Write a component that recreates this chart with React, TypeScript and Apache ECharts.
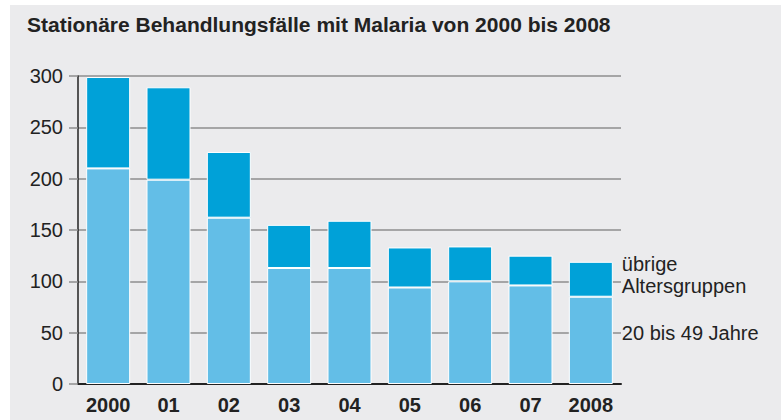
import React, { useEffect, useRef } from "react";
import * as echarts from "echarts";

const title = "Stationäre Behandlungsfälle mit Malaria von 2000 bis 2008";
const categories = ["2000", "01", "02", "03", "04", "05", "06", "07", "2008"];
const age20to49 = [210, 199, 162, 113, 113, 94, 100, 96, 85];
const otherAges = [89, 90, 64, 42, 46, 39, 34, 29, 34];
const seriesNames = ["20 bis 49 Jahre", "übrige\nAltersgruppen"];
const yTicks = [0, 50, 100, 150, 200, 250, 300];

const FONT = "'Liberation Sans', Arial, Helvetica, sans-serif";

export default function App() {
  const ref = useRef<HTMLDivElement>(null);
  useEffect(() => {
    if (!ref.current) return;
    const chart = echarts.init(ref.current, null, { renderer: "svg" });
    const last = categories.length - 1;
    const mk = (arr: number[], name: string, offsetY: number) =>
      arr.map((v, i) =>
        i === last
          ? {
              value: v,
              label: {
                show: true,
                position: "right",
                distance: 9,
                formatter: name,
                color: "#222",
                fontFamily: FONT,
                fontSize: 20,
                lineHeight: 22,
                align: "left",
                offset: [0, offsetY],
              },
            }
          : v
      );
    chart.setOption({
      animation: false,
      backgroundColor: "#ffffff",
      textStyle: { fontFamily: FONT },
      graphic: [
        {
          type: "rect",
          z: -10,
          silent: true,
          shape: { x: 10, y: 5, width: 771, height: 415 },
          style: { fill: "#ebebed" },
        },
      ],
      title: {
        text: title,
        left: 27,
        top: 14,
        padding: 0,
        textStyle: { fontFamily: FONT, fontSize: 21, fontWeight: "bold", color: "#222" },
      },
      grid: { left: 78, right: 160, top: 76, bottom: 36, containLabel: false },
      xAxis: {
        type: "category",
        data: categories,
        axisLine: { lineStyle: { color: "#222", width: 2 } },
        axisTick: { show: false },
        axisLabel: {
          fontFamily: FONT,
          fontSize: 20,
          fontWeight: "bold",
          color: "#222",
          margin: 11,
        },
      },
      yAxis: {
        type: "value",
        min: yTicks[0],
        max: yTicks[yTicks.length - 1],
        interval: 50,
        axisLine: { show: true, lineStyle: { color: "#222", width: 1.5 } },
        axisTick: { show: true, length: 9, lineStyle: { color: "#8e8e8e", width: 1.5 } },
        splitLine: { lineStyle: { color: "#8e8e8e", width: 1.5 } },
        axisLabel: { fontFamily: FONT, fontSize: 20, color: "#222", margin: 15 },
      },
      series: [
        {
          name: seriesNames[0],
          type: "bar",
          stack: "total",
          barWidth: 44,
          data: mk(age20to49, seriesNames[0], -7),
          itemStyle: { color: "#63bee7", borderColor: "#ffffff", borderWidth: 1 },
        },
        {
          name: seriesNames[1],
          type: "bar",
          stack: "total",
          barWidth: 44,
          data: mk(otherAges, seriesNames[1], -4),
          itemStyle: { color: "#00a1d8", borderColor: "#ffffff", borderWidth: 1 },
        },
      ],
    });
    return () => chart.dispose();
  }, []);
  return (
    <div
      ref={ref}
      style={{ position: "fixed", left: 0, top: 0, width: 781, height: 420 }}
    />
  );
}
